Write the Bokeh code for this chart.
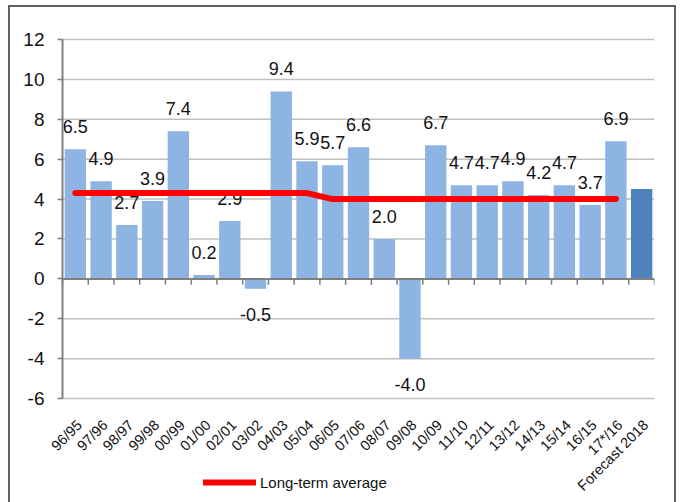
import math
from bokeh.plotting import figure
from bokeh.models import Range1d, FixedTicker, Legend, LegendItem, ColumnDataSource
from bokeh.core.properties import value
from bokeh.embed import file_html
from bokeh.resources import INLINE

categories = ["96/95", "97/96", "98/97", "99/98", "00/99", "01/00", "02/01", "03/02",
              "04/03", "05/04", "06/05", "07/06", "08/07", "09/08", "10/09", "11/10",
              "12/11", "13/12", "14/13", "15/14", "16/15", "17*/16", "Forecast 2018"]
growth = [6.5, 4.9, 2.7, 3.9, 7.4, 0.2, 2.9, -0.5, 9.4, 5.9, 5.7, 6.6, 2.0, -4.0,
          6.7, 4.7, 4.7, 4.9, 4.2, 4.7, 3.7, 6.9, 4.5]
long_term_avg = [4.3, 4.3, 4.3, 4.3, 4.3, 4.3, 4.3, 4.3, 4.3, 4.3,
                 4.0, 4.0, 4.0, 4.0, 4.0, 4.0, 4.0, 4.0, 4.0, 4.0, 4.0, 4.0]
y_ticks = [-6, -4, -2, 0, 2, 4, 6, 8, 10, 12]

FONT = "Liberation Sans Narrow, Liberation Sans, Arial Narrow, sans-serif"
LIGHT = "#8DB4E2"
DARK = "#4F81BD"
AXIS = "#7F7F7F"
GRID = "#BFBFBF"
TXT = "#111111"

idx = list(range(len(categories)))
n_hist = len(categories) - 1
y_min, y_max = min(y_ticks), max(y_ticks)
x_lo, x_hi = -0.5, len(categories) - 0.5

# The frame covers the whole picture so that the rotated category labels, the
# legend and the value-axis labels (outside the plotting box) are drawn in it;
# the value axis is pinned at the left edge of the categories.
p = figure(width=668, height=497, output_backend="svg", toolbar_location=None,
           x_range=Range1d(-2.598, x_hi), y_range=Range1d(-11.21, 13.705),
           min_border_left=0, min_border_right=22, min_border_top=0, min_border_bottom=0,
           background_fill_color=None, border_fill_color=None)
p.outline_line_color = None
p.styles = {"margin-left": "8px", "margin-top": "5px",
            "box-shadow": "inset 2px 2px 0 #606060, inset -2px 0 0 #606060"}

# horizontal gridlines across the plotting box only
p.segment(x0=[x_lo] * len(y_ticks), y0=y_ticks, x1=[x_hi] * len(y_ticks), y1=y_ticks,
          line_color=GRID, line_width=1.5)

colors = [LIGHT] * n_hist + [DARK]
src = ColumnDataSource(dict(x=idx, top=growth, color=colors))
p.vbar(x="x", top="top", bottom=0, width=0.83, fill_color="color", line_color=None, source=src)

# value labels (forecast bar is unlabeled)
pos_i = [i for i in idx[:n_hist] if growth[i] >= 0]
neg_i = [i for i in idx[:n_hist] if growth[i] < 0]
pos = ColumnDataSource(dict(x=pos_i, y=[growth[i] for i in pos_i],
                            t=[f"{growth[i]:.1f}" for i in pos_i]))
neg = ColumnDataSource(dict(x=neg_i, y=[growth[i] for i in neg_i],
                            t=[f"{growth[i]:.1f}" for i in neg_i]))
p.text(x="x", y="y", text="t", source=pos, y_offset=-16, text_align="center",
       text_baseline="bottom", text_font=value(FONT), text_font_size="18px", text_color=TXT)
p.text(x="x", y="y", text="t", source=neg, y_offset=19, text_align="center",
       text_baseline="top", text_font=value(FONT), text_font_size="18px", text_color=TXT)

# zero line and category tick marks
p.segment(x0=[x_lo], y0=[0], x1=[x_hi], y1=[0], line_color=AXIS, line_width=2)
bounds = [i - 0.5 for i in range(len(categories) + 1)]
p.segment(x0=bounds, y0=[0] * len(bounds), x1=bounds, y1=[-0.3] * len(bounds),
          line_color=AXIS, line_width=1.5)

line = p.line(x=idx[:n_hist], y=long_term_avg, line_color="#FF0000", line_width=6,
              line_cap="round", line_join="round")

# category labels, rotated, below the -6 gridline
cat_src = ColumnDataSource(dict(x=idx, y=[y_min] * len(idx), t=categories))
p.text(x="x", y="y", text="t", source=cat_src, angle=math.pi / 4, x_offset=4, y_offset=24,
       text_align="right", text_baseline="middle", text_font=value(FONT),
       text_font_size="14.5px", text_color=TXT)

# axes
p.xaxis.visible = False
p.yaxis.fixed_location = x_lo
p.yaxis.ticker = FixedTicker(ticks=y_ticks)
p.yaxis.major_label_overrides = {t: str(t) for t in y_ticks}
p.yaxis.bounds = (y_min, y_max)
p.yaxis.axis_line_color = AXIS
p.yaxis.axis_line_width = 2
p.yaxis.major_tick_line_color = AXIS
p.yaxis.major_tick_line_width = 1.5
p.yaxis.major_tick_out = 5
p.yaxis.major_tick_in = 0
p.yaxis.minor_tick_line_color = None
p.yaxis.major_label_text_font = FONT
p.yaxis.major_label_text_font_size = "19px"
p.yaxis.major_label_text_color = TXT
p.yaxis.major_label_standoff = 13

p.xgrid.grid_line_color = None
p.ygrid.grid_line_color = None

legend = Legend(items=[LegendItem(label="Long-term average", renderers=[line])],
                location=(195, 10), orientation="horizontal", padding=0, margin=0,
                glyph_width=53, glyph_height=20, label_standoff=4,
                label_text_font=FONT, label_text_font_size="15px", label_text_color=TXT,
                border_line_color=None, background_fill_alpha=0)
p.add_layout(legend, "center")

open("out.html", "w").write(file_html(p, INLINE))
